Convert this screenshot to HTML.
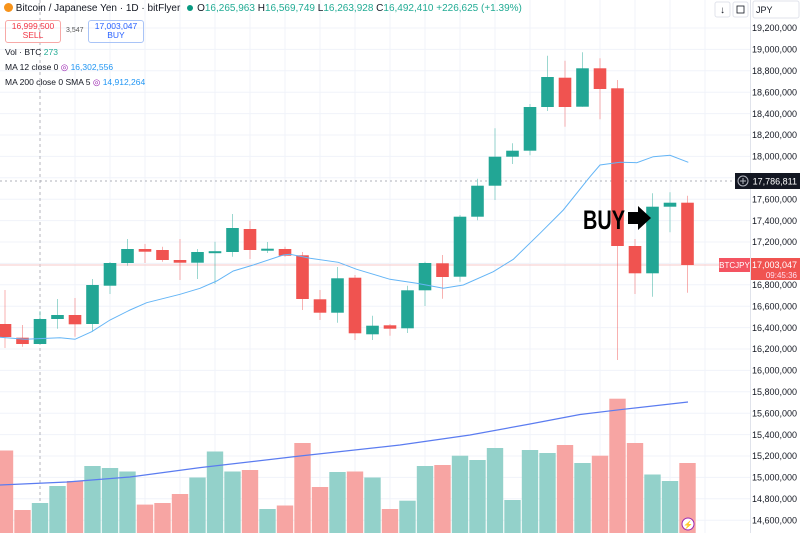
<!DOCTYPE html>
<html><head><meta charset="utf-8"><style>
body{margin:0;width:800px;height:533px;overflow:hidden;background:#fff;font-family:"Liberation Sans",sans-serif}
svg{position:absolute;left:0;top:0}
.hd{position:absolute;font-size:9.5px;color:#131722;white-space:nowrap}
.g{color:#22ab94}
</style></head><body>
<svg width="800" height="533" xmlns="http://www.w3.org/2000/svg">
<g stroke="#f0f3fa" stroke-width="1">
<line x1="75" y1="0" x2="75" y2="533"/><line x1="110" y1="0" x2="110" y2="533"/><line x1="145" y1="0" x2="145" y2="533"/><line x1="180" y1="0" x2="180" y2="533"/><line x1="215" y1="0" x2="215" y2="533"/><line x1="250" y1="0" x2="250" y2="533"/><line x1="285" y1="0" x2="285" y2="533"/><line x1="320" y1="0" x2="320" y2="533"/><line x1="355" y1="0" x2="355" y2="533"/><line x1="390" y1="0" x2="390" y2="533"/><line x1="425" y1="0" x2="425" y2="533"/><line x1="460" y1="0" x2="460" y2="533"/><line x1="495" y1="0" x2="495" y2="533"/><line x1="530" y1="0" x2="530" y2="533"/><line x1="565" y1="0" x2="565" y2="533"/><line x1="600" y1="0" x2="600" y2="533"/><line x1="635" y1="0" x2="635" y2="533"/><line x1="670" y1="0" x2="670" y2="533"/><line x1="705" y1="0" x2="705" y2="533"/>
<line x1="0" y1="28" x2="750" y2="28"/><line x1="0" y1="49.4" x2="750" y2="49.4"/><line x1="0" y1="70.8" x2="750" y2="70.8"/><line x1="0" y1="92.2" x2="750" y2="92.2"/><line x1="0" y1="113.6" x2="750" y2="113.6"/><line x1="0" y1="135" x2="750" y2="135"/><line x1="0" y1="156.4" x2="750" y2="156.4"/><line x1="0" y1="177.8" x2="750" y2="177.8"/><line x1="0" y1="199.2" x2="750" y2="199.2"/><line x1="0" y1="220.6" x2="750" y2="220.6"/><line x1="0" y1="242" x2="750" y2="242"/><line x1="0" y1="263.4" x2="750" y2="263.4"/><line x1="0" y1="284.8" x2="750" y2="284.8"/><line x1="0" y1="306.2" x2="750" y2="306.2"/><line x1="0" y1="327.6" x2="750" y2="327.6"/><line x1="0" y1="349" x2="750" y2="349"/><line x1="0" y1="370.4" x2="750" y2="370.4"/><line x1="0" y1="391.8" x2="750" y2="391.8"/><line x1="0" y1="413.2" x2="750" y2="413.2"/><line x1="0" y1="434.6" x2="750" y2="434.6"/><line x1="0" y1="456" x2="750" y2="456"/><line x1="0" y1="477.4" x2="750" y2="477.4"/><line x1="0" y1="498.8" x2="750" y2="498.8"/><line x1="0" y1="520.2" x2="750" y2="520.2"/>
</g>
<line x1="40" y1="0" x2="40" y2="533" stroke="#9598a1" stroke-dasharray="3,3" stroke-width="0.7"/>
<line x1="0" y1="181" x2="750" y2="181" stroke="#9598a1" stroke-dasharray="2,3" stroke-width="0.7"/>
<line x1="0" y1="265" x2="750" y2="265" stroke="#f7c9c9" stroke-width="1"/>
<g id="vol"></g>
<polyline fill="none" stroke="#5b7cf0" stroke-width="1.2" points="0,485 67,482 130,477 200,467.6 300,456 400,445 470,435 530,424 580,414.5 620,409.7 688,402"/>
<g id="cdl"></g>
<polyline fill="none" stroke="#64b5f6" stroke-width="1" points="0,337.3 25,339.3 60,337.7 75,339.3 91.7,331.7 110,320 130,310 146.7,302.7 180,294.3 200,288.3 216.7,281 233.3,271 253.3,265 283.3,255 290,254.3 310,258.3 338.3,262.3 356.7,269.3 390,279.3 416.7,283.3 443.3,288.3 463.3,285 493.3,271.7 513.3,259.3 540,233.3 563.3,210 590,176.7 600,165 620,162.3 636.7,162.7 653.3,156.7 670,155.3 688.3,162.3"/>
<text x="583" y="229" font-family="Liberation Sans" font-size="27" font-weight="bold" textLength="42" lengthAdjust="spacingAndGlyphs" fill="#000">BUY</text>
<polygon points="628,212 638,212 638,206 651,218 638,230 638,224 628,224" fill="#000"/>
<line x1="750.5" y1="0" x2="750.5" y2="533" stroke="#e0e3eb"/>
<g font-family="Liberation Sans" font-size="9" fill="#131722" text-anchor="end">
<text x="797" y="31">19,200,000</text><text x="797" y="52.5">19,000,000</text><text x="797" y="74">18,800,000</text><text x="797" y="95.4">18,600,000</text><text x="797" y="116.8">18,400,000</text><text x="797" y="138.2">18,200,000</text><text x="797" y="159.6">18,000,000</text><text x="797" y="202.4">17,600,000</text><text x="797" y="223.8">17,400,000</text><text x="797" y="245.2">17,200,000</text><text x="797" y="288">16,800,000</text><text x="797" y="309.4">16,600,000</text><text x="797" y="330.8">16,400,000</text><text x="797" y="352.2">16,200,000</text><text x="797" y="373.6">16,000,000</text><text x="797" y="395">15,800,000</text><text x="797" y="416.4">15,600,000</text><text x="797" y="437.8">15,400,000</text><text x="797" y="459.2">15,200,000</text><text x="797" y="480.6">15,000,000</text><text x="797" y="502">14,800,000</text><text x="797" y="523.4">14,600,000</text>
</g>
<rect x="735" y="173" width="65" height="16" fill="#131722"/>
<circle cx="743" cy="181" r="5" fill="none" stroke="#b2b5be"/><line x1="740" y1="181" x2="746" y2="181" stroke="#b2b5be"/><line x1="743" y1="178" x2="743" y2="184" stroke="#b2b5be"/>
<text x="797" y="184.5" font-family="Liberation Sans" font-size="9" fill="#fff" text-anchor="end">17,786,811</text>
<rect x="719" y="258" width="31" height="14" fill="#f23645" opacity="0.85"/>
<text x="734.5" y="268" font-family="Liberation Sans" font-size="8" fill="#fff" text-anchor="middle">BTCJPY</text>
<rect x="751" y="258" width="49" height="22" fill="#f05350"/>
<text x="797" y="268" font-family="Liberation Sans" font-size="9" fill="#fff" text-anchor="end">17,003,047</text>
<text x="797" y="278" font-family="Liberation Sans" font-size="8" fill="#fde" text-anchor="end">09:45:36</text>
<rect x="753" y="1" width="46" height="17" fill="#fff" stroke="#e0e3eb" rx="2"/>
<text x="756" y="13" font-family="Liberation Sans" font-size="9" fill="#131722">JPY</text>
<rect x="715" y="2" width="15" height="15" fill="#fff" stroke="#e0e3eb" rx="2"/><text x="722.5" y="13" font-size="10" text-anchor="middle" fill="#131722">↓</text>
<rect x="733" y="2" width="15" height="15" fill="#fff" stroke="#e0e3eb" rx="2"/><rect x="737" y="6" width="7" height="7" fill="none" stroke="#131722" stroke-width="0.8"/>
<circle cx="688" cy="524" r="6" fill="#fff" stroke="#9c27b0"/><text x="688" y="527.5" font-size="8" fill="#9c27b0" text-anchor="middle">⚡</text>
</svg>
<div class="hd" style="left:4px;top:3px;font-size:10px"><span style="display:inline-block;width:9px;height:9px;border-radius:50%;background:#f7931a;vertical-align:-1px"></span> Bitcoin / Japanese Yen · 1D · bitFlyer <span style="display:inline-block;width:6px;height:6px;border-radius:50%;background:#089981;margin:0 4px"></span>O<span class="g">16,265,963</span> H<span class="g">16,569,749</span> L<span class="g">16,263,928</span> C<span class="g">16,492,410</span> <span class="g">+226,625 (+1.39%)</span></div>
<div style="position:absolute;left:5px;top:20px;width:54px;height:20px;border:1px solid #f7a9a7;border-radius:3px;color:#f23645;font-size:8.5px;text-align:center;line-height:9px;padding-top:1px">16,999,500<br>SELL</div>
<div class="hd" style="left:66px;top:27px;font-size:7px;color:#555">3,547</div>
<div style="position:absolute;left:88px;top:20px;width:54px;height:20px;border:1px solid #a9c4f7;border-radius:3px;color:#2962ff;font-size:8.5px;text-align:center;line-height:9px;padding-top:1px">17,003,047<br>BUY</div>
<div class="hd" style="left:5px;top:47px;font-size:8.5px">Vol · BTC <span class="g">273</span></div>
<div class="hd" style="left:5px;top:62px;font-size:8.5px">MA 12 close 0 <span style="color:#9c27b0">◎</span> <span style="color:#2196f3">16,302,556</span></div>
<div class="hd" style="left:5px;top:77px;font-size:8.5px">MA 200 close 0 SMA 5 <span style="color:#9c27b0">◎</span> <span style="color:#2196f3">14,912,264</span></div>
<script>
var R='#f05350',G='#22a695',VR='#f7a5a3',VG='#93d1ca';
var cols="RRGGRGGGRRRGGGRGRRRGRGRGGRGGGGGGRGRRRGGR".split('');
var c=[[324,337,290,348],[337.7,344,325,346.7],[319,344,311,344],[315,319,299,328.7],[315,324.3,298,336.7],[285,324,279,331.7],[263,285.7,262,294],[249,263,239,265.7],[249,251.7,244,263],[250,260,246.7,261.7],[260,262.7,239,280],[252,262.7,249,279],[251.2,252.7,241.7,284],[228,252,214,256.7],[229,250,220.7,259],[248.7,250,242,253],[249,255.7,246.7,256.7],[255.3,299,252,310],[299.3,312.7,290,320],[278.3,312.7,267,322.7],[277.7,333.3,275,340],[325.7,334.3,315.7,340],[325.3,328.7,324,335.7],[290.3,328.3,285.7,333],[263,290.3,261.7,306],[263.3,277,255,298.7],[216.7,276.7,215,281.7],[185.7,216.7,178.7,220.3],[156.7,185.7,128.3,200],[150.7,156.7,143.3,164],[107,150.7,104,155.3],[77,107,55.7,111],[77.7,107,60.7,126.7],[68.3,106.7,52.3,106.7],[68.3,89,58.3,119.3],[88.3,246,80,360],[246,273.3,239,294],[206.7,273.3,193.3,296.7],[202.7,206.7,192.3,232.3],[202.7,265,195.7,292.7]];
var v=[450.5,510,503,486,481,466,468,471.5,504.6,503,494,477.5,451.5,471.5,470,509,505.5,443,487,472,471.5,477.5,509,500.7,466,465,455.7,460,448,500,450,453,445,463,455.7,398.7,443,474.5,481,463];
var ns='http://www.w3.org/2000/svg',vg=document.getElementById('vol'),cg=document.getElementById('cdl');
function el(p,t,a){var e=document.createElementNS(ns,t);for(var k in a)e.setAttribute(k,a[k]);p.appendChild(e);}
for(var i=0;i<40;i++){var x=5+17.5*i;
el(vg,'rect',{x:x-8.2,y:v[i],width:16.4,height:533-v[i],fill:cols[i]=='R'?VR:VG});
var col=cols[i]=='R'?R:G,d=c[i];
el(cg,'line',{x1:x,x2:x,y1:d[2],y2:d[3],stroke:col,'stroke-opacity':0.45,'stroke-width':1});
el(cg,'rect',{x:x-6.3,y:d[0],width:12.6,height:Math.max(2,d[1]-d[0]),fill:col});}
</script>
</body></html>
